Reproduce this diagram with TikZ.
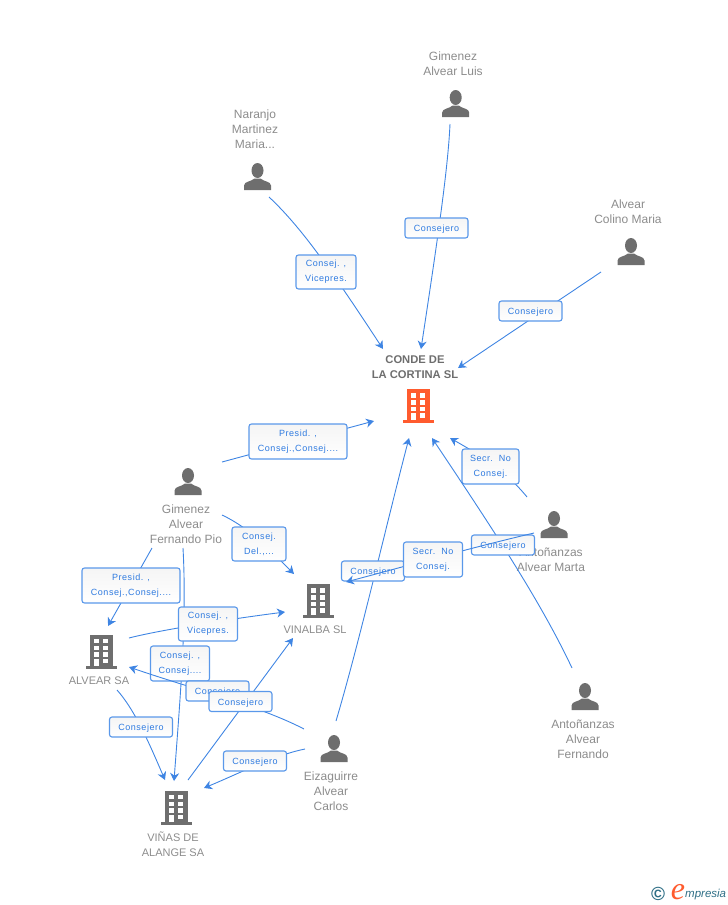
\documentclass[tikz,border=0pt]{standalone}
\usepackage{xcolor}
\usepackage{fontspec}
\setmainfont{Liberation Sans}
\newfontfamily\labfont[LetterSpace=6]{Liberation Sans}
\newfontfamily\markfont{Liberation Serif}
\usetikzlibrary{arrows.meta, positioning}
\definecolor{linkblue}{HTML}{3F85E3}
\definecolor{boxblue}{HTML}{5A98EA}
\definecolor{labblue}{HTML}{2F7BE0}
\definecolor{icongray}{HTML}{6E6E6E}
\definecolor{namegray}{HTML}{8C8C8C}
\definecolor{mainorange}{HTML}{FF5B2E}
\definecolor{markteal}{HTML}{2F6F86}

\begin{document}
\begin{tikzpicture}[
    x=1pt, y=-1pt,
    person/.style={rectangle, minimum size=27pt, inner sep=0pt, fill=white, path picture={
        \fill[icongray] (0,-6) ellipse (6pt and 7.5pt);
        \fill[icongray] (-13.5,13.5) -- (-13.5,9) .. controls (-13.5,5) and (-6,5) .. (-3,2) -- (3,2)
            .. controls (6,5) and (13.5,5) .. (13.5,9) -- (13.5,13.5) -- cycle;
    }},
    building/.style={rectangle, minimum width=32pt, minimum height=34pt, inner sep=0pt, fill=white, path picture={
        \fill[#1] (-11.5,-17) rectangle (11.5,15);
        \fill[#1] (-15.5,14.2) rectangle (15.5,17);
        \foreach \wy in {-12.7,-6,0.5,7.2} {
            \fill[white] (1.8,\wy) rectangle +(5.2,4.6);
        }
        \foreach \wy in {-12.7,-6,0.5} {
            \fill[white] (-7.2,\wy) rectangle +(5,4.6);
        }
        \fill[white] (-7.2,7.2) rectangle (-2.2,14.2);
    }},
    nametxt/.style={align=center, text=namegray, inner sep=0pt, font=\fontsize{12}{15}\selectfont},
    lab/.style={rectangle, draw=boxblue, line width=1.1pt, rounded corners=2.5pt, top color=black!4, bottom color=white,
        inner sep=0pt, align=center, text=labblue, font=\labfont\fontsize{9}{15}\selectfont},
    labone/.style={lab, minimum width=63pt, minimum height=20pt, text height=7pt, text depth=0pt},
    link/.style={draw=linkblue, line width=0.9pt, -{Stealth[length=8pt,width=9pt,inset=2.5pt]}}
]
    \useasboundingbox (0,0) rectangle (728,905);

    % people and companies
    \node[person] (naranjo) at (257.5,176.5) {};
    \node[person] (luis) at (455.7,103.5) {};
    \node[person] (colino) at (631,251.5) {};
    \node[person] (pio) at (188,481.5) {};
    \node[person] (marta) at (554,524.5) {};
    \node[person] (fernando) at (585,696.5) {};
    \node[person] (carlos) at (334,748.5) {};
    \node[building=mainorange] (conde) at (418,406) {};
    \node[building=icongray] (vinalba) at (318,601) {};
    \node[building=icongray] (alvear) at (101,651.5) {};
    \node[building=icongray] (vinas) at (176,807.5) {};

    \node[nametxt] (naranjotxt) at (255,129) {Naranjo\\Martinez\\Maria...};
    \node[nametxt] (luistxt) at (453,63.5) {Gimenez\\Alvear Luis};
    \node[nametxt] (colinotxt) at (628,211.5) {Alvear\\Colino Maria};
    \node[nametxt, text=icongray, font=\bfseries\fontsize{11.2}{15}\selectfont] (condetxt) at (415,367.5) {CONDE DE\\LA CORTINA SL};
    \node[nametxt] (piotxt) at (186,524) {Gimenez\\Alvear\\Fernando Pio};
    \node[nametxt] (martatxt) at (551,559.5) {Antoñanzas\\Alvear Marta};
    \node[nametxt] (fernandotxt) at (583,739) {Antoñanzas\\Alvear\\Fernando};
    \node[nametxt] (carlostxt) at (331,791) {Eizaguirre\\Alvear\\Carlos};
    \node[nametxt, font=\fontsize{11}{15}\selectfont] (vinalbatxt) at (315,630) {VINALBA SL};
    \node[nametxt, font=\fontsize{11}{15}\selectfont] (alveartxt) at (99,681) {ALVEAR SA};
    \node[nametxt, font=\fontsize{11}{15}\selectfont] (vinastxt) at (173,844.5) {VIÑAS DE\\ALANGE SA};

    % free ends of the connectors
    \coordinate (naranjoout) at (269,197);
    \coordinate (luisout) at (450,124);
    \coordinate (colinoout) at (601,272);
    \coordinate (piouta) at (222,462);
    \coordinate (pioutb) at (222,515);
    \coordinate (pioutc) at (152,548);
    \coordinate (pioutd) at (183,548);
    \coordinate (martaouta) at (527,497);
    \coordinate (martaoutb) at (534,533);
    \coordinate (fernandoout) at (572,668);
    \coordinate (carlosouta) at (336,721);
    \coordinate (carlosoutb) at (304,729);
    \coordinate (carlosoutc) at (305,749);
    \coordinate (alvearouta) at (129,638);
    \coordinate (alvearoutb) at (117,690);
    \coordinate (vinasout) at (188,780);
    \coordinate (condein1) at (383,349);
    \coordinate (condein2) at (421,349);
    \coordinate (condein3) at (458,368);
    \coordinate (condein4) at (374,421);
    \coordinate (condein5) at (450,438);
    \coordinate (condein6) at (432,438);
    \coordinate (condein7) at (409,438);
    \coordinate (vinalbain1) at (294,574);
    \coordinate (vinalbain2) at (285,612);
    \coordinate (vinalbain3) at (293,638);
    \coordinate (vinalbain4) at (346,582);
    \coordinate (alvearin1) at (108,626);
    \coordinate (alvearin2) at (129,667);
    \coordinate (vinasin1) at (165,780);
    \coordinate (vinasin2) at (174,781);
    \coordinate (vinasin3) at (204,788);

    % connectors, each with its box
    \draw[link] (naranjoout) .. controls (300,226) and (330,268) .. (condein1);
    \node[lab, minimum width=60pt, minimum height=34pt] (naranjolab) at (326,272) {Consej. ,\\Vicepres.};
    \draw[link] (luisout) .. controls (448,170) and (436,250) .. (condein2);
    \node[labone] (luislab) at (436.5,228) {Consejero};
    \draw[link] (colinoout) -- (condein3);
    \node[labone] (colinolab) at (530.5,311) {Consejero};
    \draw[link] (piouta) -- (condein4);
    \node[lab, minimum width=98pt, minimum height=35pt] (pioconde) at (298,441.5) {Presid. ,\\Consej.,Consej....};
    \draw[link] (martaouta) .. controls (505,470) and (480,455) .. (condein5);
    \node[lab, minimum width=57pt, minimum height=35pt] (martaconde) at (490.5,466.5) {Secr.\ \ No\\Consej.};
    \draw[link] (fernandoout) .. controls (540,600) and (490,525) .. (condein6);
    \node[labone] (fernandolab) at (503,545) {Consejero};
    \draw[link] (carlosouta) .. controls (360,640) and (385,530) .. (condein7);
    \node[labone] (carlosconde) at (373,571) {Consejero};
    \draw[link] (martaoutb) .. controls (470,548) and (410,565) .. (vinalbain4);
    \node[lab, minimum width=59pt, minimum height=35pt] (martavinalba) at (433,559.5) {Secr.\ \ No\\Consej.};

    \draw[link] (pioutc) -- (alvearin1);
    \node[lab, minimum width=98pt, minimum height=35pt] (pioalvear) at (131,585.5) {Presid. ,\\Consej.,Consej....};
    \draw[link] (pioutb) .. controls (250,528) and (272,552) .. (vinalbain1);
    \node[lab, minimum width=54pt, minimum height=34pt] (piovinalba) at (259,544) {Consej.\\Del.,...};
    \draw[link] (pioutd) .. controls (187,620) and (180,700) .. (vinasin2);
    \draw[link] (alvearouta) .. controls (160,630) and (230,619) .. (vinalbain2);
    \node[lab, minimum width=59pt, minimum height=34pt] (alvearvinalba) at (208,624) {Consej. ,\\Vicepres.};
    \node[lab, minimum width=59pt, minimum height=35pt] (piovinas) at (180,663.5) {Consej. ,\\Consej....};
    \draw[link] (carlosoutb) .. controls (260,706) and (190,688) .. (alvearin2);
    \node[labone] (carlosalvear) at (217.5,691) {Consejero};
    \draw[link] (vinasout) -- (vinalbain3);
    \node[labone] (vinaslab) at (240.5,701.5) {Consejero};
    \draw[link] (alvearoutb) .. controls (135,710) and (150,745) .. (vinasin1);
    \node[labone] (alvearvinas) at (141,727) {Consejero};
    \draw[link] (carlosoutc) .. controls (275,755) and (240,773) .. (vinasin3);
    \node[labone] (carlosvinas) at (255,761) {Consejero};

    % mark in the corner
    \node[text=markteal, inner sep=0pt, font=\bfseries\fontsize{19}{19}\selectfont] (markc) at (658,894) {©};
    \node[text=mainorange, inner sep=0pt, font=\markfont\itshape\fontsize{32}{32}\selectfont] (marke) at (678,892) {e};
    \node[text=markteal, inner sep=0pt, anchor=west, font=\itshape\fontsize{11.5}{12}\selectfont] (markt) at (685,895) {mpresia};
\end{tikzpicture}
\end{document}
